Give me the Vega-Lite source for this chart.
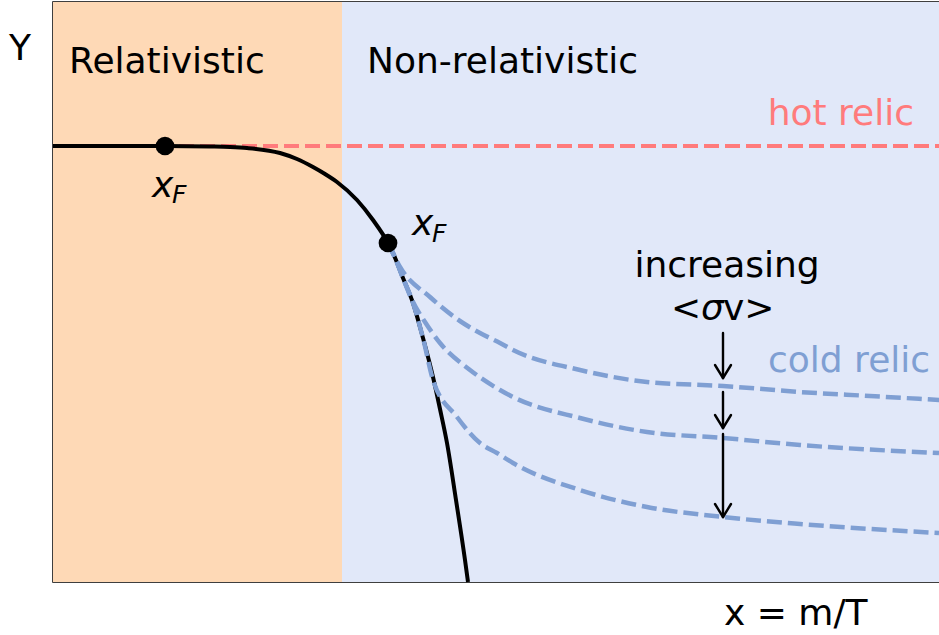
{
  "$schema": "https://vega.github.io/schema/vega-lite/v6.json",
  "width": 886,
  "height": 580,
  "autosize": "none",
  "padding": {"left": 53, "top": 2, "right": 0, "bottom": 53},
  "background": "white",
  "config": {
    "view": {"stroke": "black", "strokeWidth": 1.5},
    "text": {"font": "DejaVu Sans", "fontSize": 36, "baseline": "alphabetic"}
  },
  "datasets": {
    "regions": [
      {"regime": "Relativistic", "x0": 0, "x1": 289, "y0": 0, "y1": 580},
      {"regime": "Non-relativistic", "x0": 289, "x1": 886, "y0": 0, "y1": 580}
    ],
    "hot": [
      {"x": 0, "y": 436},
      {"x": 886, "y": 436}
    ],
    "equilibrium": [
      {"x": 0, "y": 436}, {"x": 112, "y": 436}, {"x": 157, "y": 435.5}, {"x": 177, "y": 435},
      {"x": 194, "y": 434}, {"x": 227, "y": 429}, {"x": 244, "y": 423}, {"x": 260, "y": 415},
      {"x": 272, "y": 408}, {"x": 284, "y": 400}, {"x": 304, "y": 382}, {"x": 320, "y": 362},
      {"x": 335, "y": 339}, {"x": 340, "y": 329}, {"x": 350, "y": 304}, {"x": 360, "y": 279},
      {"x": 370, "y": 244}, {"x": 380, "y": 205}, {"x": 387, "y": 173}, {"x": 394, "y": 139},
      {"x": 403, "y": 82}, {"x": 412, "y": 22}, {"x": 415, "y": 0}
    ],
    "cold": [
      {"k": 1, "x": 335, "y": 339}, {"k": 1, "x": 347, "y": 315}, {"k": 1, "x": 377, "y": 285},
      {"k": 1, "x": 410, "y": 259}, {"k": 1, "x": 427, "y": 249}, {"k": 1, "x": 447, "y": 239},
      {"k": 1, "x": 460, "y": 232}, {"k": 1, "x": 527, "y": 212}, {"k": 1, "x": 594, "y": 200},
      {"k": 1, "x": 670, "y": 196}, {"k": 1, "x": 747, "y": 190}, {"k": 1, "x": 817, "y": 186},
      {"k": 1, "x": 886, "y": 182},
      {"k": 2, "x": 335, "y": 339}, {"k": 2, "x": 340, "y": 329}, {"k": 2, "x": 350, "y": 304},
      {"k": 2, "x": 359, "y": 282}, {"k": 2, "x": 372, "y": 260}, {"k": 2, "x": 387, "y": 239},
      {"k": 2, "x": 417, "y": 212}, {"k": 2, "x": 447, "y": 192}, {"k": 2, "x": 460, "y": 185},
      {"k": 2, "x": 527, "y": 164}, {"k": 2, "x": 594, "y": 150}, {"k": 2, "x": 670, "y": 144},
      {"k": 2, "x": 747, "y": 137}, {"k": 2, "x": 886, "y": 129},
      {"k": 3, "x": 335, "y": 339}, {"k": 3, "x": 340, "y": 329}, {"k": 3, "x": 350, "y": 304},
      {"k": 3, "x": 360, "y": 279}, {"k": 3, "x": 370, "y": 244}, {"k": 3, "x": 380, "y": 202},
      {"k": 3, "x": 404, "y": 165}, {"k": 3, "x": 427, "y": 139}, {"k": 3, "x": 444, "y": 129},
      {"k": 3, "x": 460, "y": 119}, {"k": 3, "x": 527, "y": 92}, {"k": 3, "x": 594, "y": 75},
      {"k": 3, "x": 670, "y": 65}, {"k": 3, "x": 747, "y": 58}, {"k": 3, "x": 886, "y": 49}
    ],
    "freezeout": [
      {"x": 112, "y": 436},
      {"x": 335, "y": 339}
    ],
    "arrows": [
      {"x": 670, "y": 249, "x2": 670, "y2": 204},
      {"x": 670, "y": 204, "x2": 662, "y2": 217},
      {"x": 670, "y": 204, "x2": 678, "y2": 217},
      {"x": 670, "y": 190, "x2": 670, "y2": 154},
      {"x": 670, "y": 154, "x2": 662, "y2": 167},
      {"x": 670, "y": 154, "x2": 678, "y2": 167},
      {"x": 670, "y": 148, "x2": 670, "y2": 65},
      {"x": 670, "y": 65, "x2": 662, "y2": 78},
      {"x": 670, "y": 65, "x2": 678, "y2": 78}
    ],
    "labelsLeft": [
      {"t": "Relativistic", "x": 16, "y": 509},
      {"t": "Non-relativistic", "x": 314, "y": 509},
      {"t": "<", "x": 618, "y": 262},
      {"t": "v>", "x": 670, "y": 262},
      {"t": "x = m/T", "x": 671, "y": -43}
    ],
    "labelsCenter": [
      {"t": "increasing", "x": 674, "y": 305},
      {"t": "Y", "x": -33, "y": 522}
    ],
    "labelsItalic": [
      {"t": "x", "x": 99, "y": 385},
      {"t": "x", "x": 359, "y": 347},
      {"t": "σ", "x": 648, "y": 262}
    ],
    "subscripts": [
      {"t": "F", "x": 119, "y": 379},
      {"t": "F", "x": 379, "y": 340}
    ]
  },
  "layer": [
    {
      "data": {"name": "regions"},
      "mark": {"type": "rect"},
      "encoding": {
        "x": {"field": "x0", "type": "quantitative", "scale": {"domain": [0, 886], "nice": false, "zero": false}, "axis": null},
        "x2": {"field": "x1"},
        "y": {"field": "y0", "type": "quantitative", "scale": {"domain": [0, 580], "nice": false, "zero": false}, "axis": null},
        "y2": {"field": "y1"},
        "fill": {"field": "regime", "type": "nominal", "scale": {"domain": ["Relativistic", "Non-relativistic"], "range": ["#fed9b6", "#e1e8f9"]}, "legend": null}
      }
    },
    {
      "data": {"name": "hot"},
      "mark": {"type": "line", "color": "#ff7b7c", "strokeWidth": 4, "strokeDash": [15, 6]},
      "encoding": {
        "x": {"field": "x", "type": "quantitative"},
        "y": {"field": "y", "type": "quantitative"}
      }
    },
    {
      "data": {"name": "equilibrium"},
      "mark": {"type": "line", "color": "black", "strokeWidth": 4, "interpolate": "monotone"},
      "encoding": {
        "x": {"field": "x", "type": "quantitative"},
        "y": {"field": "y", "type": "quantitative"}
      }
    },
    {
      "data": {"name": "cold"},
      "mark": {"type": "line", "color": "#7f9fd3", "strokeWidth": 4.5, "strokeDash": [15, 6], "interpolate": "monotone"},
      "encoding": {
        "x": {"field": "x", "type": "quantitative"},
        "y": {"field": "y", "type": "quantitative"},
        "detail": {"field": "k", "type": "nominal"}
      }
    },
    {
      "data": {"name": "freezeout"},
      "mark": {"type": "point", "shape": "circle", "filled": true, "color": "black", "size": 350, "opacity": 1},
      "encoding": {
        "x": {"field": "x", "type": "quantitative"},
        "y": {"field": "y", "type": "quantitative"}
      }
    },
    {
      "data": {"name": "arrows"},
      "mark": {"type": "rule", "color": "black", "strokeWidth": 2.4, "strokeCap": "round"},
      "encoding": {
        "x": {"field": "x", "type": "quantitative"},
        "y": {"field": "y", "type": "quantitative"},
        "x2": {"field": "x2"},
        "y2": {"field": "y2"}
      }
    },
    {
      "data": {"name": "labelsLeft"},
      "mark": {"type": "text", "align": "left", "color": "black"},
      "encoding": {
        "x": {"field": "x", "type": "quantitative"},
        "y": {"field": "y", "type": "quantitative"},
        "text": {"field": "t"}
      }
    },
    {
      "data": {"name": "labelsCenter"},
      "mark": {"type": "text", "align": "center", "color": "black"},
      "encoding": {
        "x": {"field": "x", "type": "quantitative"},
        "y": {"field": "y", "type": "quantitative"},
        "text": {"field": "t"}
      }
    },
    {
      "data": {"name": "labelsItalic"},
      "mark": {"type": "text", "align": "left", "color": "black", "fontStyle": "oblique"},
      "encoding": {
        "x": {"field": "x", "type": "quantitative"},
        "y": {"field": "y", "type": "quantitative"},
        "text": {"field": "t"}
      }
    },
    {
      "data": {"name": "subscripts"},
      "mark": {"type": "text", "align": "left", "color": "black", "fontStyle": "oblique", "fontSize": 25},
      "encoding": {
        "x": {"field": "x", "type": "quantitative"},
        "y": {"field": "y", "type": "quantitative"},
        "text": {"field": "t"}
      }
    },
    {
      "data": {"values": [{"t": "hot relic", "x": 861, "y": 457}]},
      "mark": {"type": "text", "align": "right", "color": "#ff7b7c"},
      "encoding": {
        "x": {"field": "x", "type": "quantitative"},
        "y": {"field": "y", "type": "quantitative"},
        "text": {"field": "t"}
      }
    },
    {
      "data": {"values": [{"t": "cold relic", "x": 715, "y": 210}]},
      "mark": {"type": "text", "align": "left", "color": "#7f9fd3"},
      "encoding": {
        "x": {"field": "x", "type": "quantitative"},
        "y": {"field": "y", "type": "quantitative"},
        "text": {"field": "t"}
      }
    }
  ]
}
